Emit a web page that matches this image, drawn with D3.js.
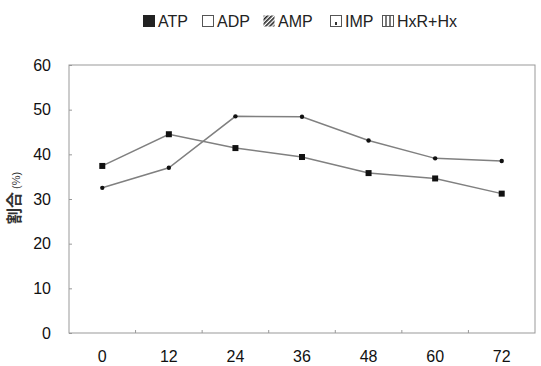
<!doctype html>
<html>
<head>
  <meta charset="utf-8">
  <title>割合</title>
  <script src="https://cdnjs.cloudflare.com/ajax/libs/d3/7.8.5/d3.min.js"></script>
  <style>
    html, body { margin: 0; padding: 0; background: #fff; }
    svg { display: block; font-family: "Liberation Sans", "Noto Sans CJK JP", sans-serif; }
  </style>
</head>
<body>
  <div id="chart"></div>
  <script>
    // data
    const hours = ['0', '12', '24', '36', '48', '60', '72'];
    const squareSeries = [37.4, 44.5, 41.4, 39.4, 35.8, 34.6, 31.2];
    const dotSeries = [32.5, 37.0, 48.5, 48.4, 43.1, 39.1, 38.5];
    const yTicks = [0, 10, 20, 30, 40, 50, 60];
    const legendNames = ['ATP', 'ADP', 'AMP', 'IMP', 'HxR+Hx'];

    const W = 541, H = 366;
    const plotL = 69, plotR = 535, plotT = 65, plotB = 333;

    const svg = d3.select('#chart').append('svg')
      .attr('width', W)
      .attr('height', H);

    const defs = svg.append('defs');
    defs.append('pattern')
      .attr('id', 'hatch')
      .attr('patternUnits', 'userSpaceOnUse')
      .attr('width', 3).attr('height', 3)
      .attr('patternTransform', 'rotate(45)')
      .append('rect')
      .attr('width', 1.6).attr('height', 3)
      .attr('fill', '#222');

    const x = d3.scaleBand().domain(hours).range([plotL, plotR]);
    const y = d3.scaleLinear().domain([0, 60]).range([plotB, plotT]);

    // plot frame
    svg.append('rect')
      .attr('x', plotL).attr('y', plotT)
      .attr('width', plotR - plotL).attr('height', plotB - plotT)
      .attr('fill', 'none')
      .attr('stroke', '#999')
      .attr('stroke-width', 1);

    // y axis (ticks inside)
    const yAxis = svg.append('g')
      .attr('transform', `translate(${plotL},0)`)
      .call(d3.axisRight(y).tickValues(yTicks).tickSize(3).tickFormat(''));
    yAxis.select('.domain').remove();
    yAxis.selectAll('line').attr('stroke', '#999');

    svg.append('g').selectAll('text')
      .data(yTicks)
      .join('text')
      .attr('x', 51)
      .attr('y', d => y(d))
      .attr('dy', '0.36em')
      .attr('text-anchor', 'end')
      .attr('font-size', 16)
      .attr('fill', '#111')
      .text(d => d);

    // x axis: ticks at band boundaries, labels centred
    const bounds = hours.slice(1).map(h => x(h));
    svg.append('g').selectAll('line')
      .data(bounds)
      .join('line')
      .attr('x1', d => d).attr('x2', d => d)
      .attr('y1', plotB).attr('y2', plotB - 3)
      .attr('stroke', '#999');

    svg.append('g').selectAll('text')
      .data(hours)
      .join('text')
      .attr('x', d => x(d) + x.bandwidth() / 2)
      .attr('y', 362)
      .attr('text-anchor', 'middle')
      .attr('font-size', 16)
      .attr('fill', '#111')
      .text(d => d);

    // y axis title
    const yTitle = svg.append('text')
      .attr('transform', 'translate(20,198) rotate(-90)')
      .attr('text-anchor', 'middle')
      .attr('fill', '#333');
    yTitle.append('tspan')
      .attr('font-size', 16)
      .attr('font-weight', 'bold')
      .text('割合');
    yTitle.append('tspan')
      .attr('font-size', 11)
      .text(' (%)');

    const cx = d => x(d) + x.bandwidth() / 2;
    const line = d3.line().x(d => cx(d.h)).y(d => y(d.v));
    const sqData = hours.map((h, i) => ({h: h, v: squareSeries[i]}));
    const dtData = hours.map((h, i) => ({h: h, v: dotSeries[i]}));

    [sqData, dtData].forEach(s => {
      svg.append('path')
        .datum(s)
        .attr('d', line)
        .attr('fill', 'none')
        .attr('stroke', '#808080')
        .attr('stroke-width', 1.5);
    });

    svg.append('g').selectAll('rect')
      .data(sqData)
      .join('rect')
      .attr('x', d => cx(d.h) - 3)
      .attr('y', d => y(d.v) - 3)
      .attr('width', 6).attr('height', 6)
      .attr('fill', '#111');

    svg.append('g').selectAll('circle')
      .data(dtData)
      .join('circle')
      .attr('cx', d => cx(d.h))
      .attr('cy', d => y(d.v))
      .attr('r', 2.2)
      .attr('fill', '#111');

    // legend
    const legendX = [143, 202, 263, 330, 382];
    const lg = svg.append('g').selectAll('g')
      .data(legendNames)
      .join('g')
      .attr('transform', (d, i) => `translate(${legendX[i]},15)`);

    lg.append('rect')
      .attr('x', 0.5).attr('y', 0.5)
      .attr('width', 11).attr('height', 11)
      .attr('fill', (d, i) => i === 0 ? '#222' : i === 2 ? 'url(#hatch)' : '#fff')
      .attr('stroke', (d, i) => i === 2 ? 'none' : i === 0 ? '#222' : '#555')
      .attr('stroke-width', 1);

    // small mark inside IMP box
    lg.filter((d, i) => i === 3).append('rect')
      .attr('x', 5).attr('y', 7).attr('width', 2).attr('height', 3)
      .attr('fill', '#333');

    // vertical bars inside HxR+Hx box
    lg.filter((d, i) => i === 4).selectAll('line.v')
      .data([4, 8])
      .join('line')
      .attr('x1', d => d).attr('x2', d => d)
      .attr('y1', 1).attr('y2', 11)
      .attr('stroke', '#222')
      .attr('stroke-width', 1.2);

    lg.append('text')
      .attr('x', 15)
      .attr('y', 6)
      .attr('dy', '0.36em')
      .attr('font-size', 16)
      .attr('fill', '#222')
      .text(d => d);
  </script>
</body>
</html>
